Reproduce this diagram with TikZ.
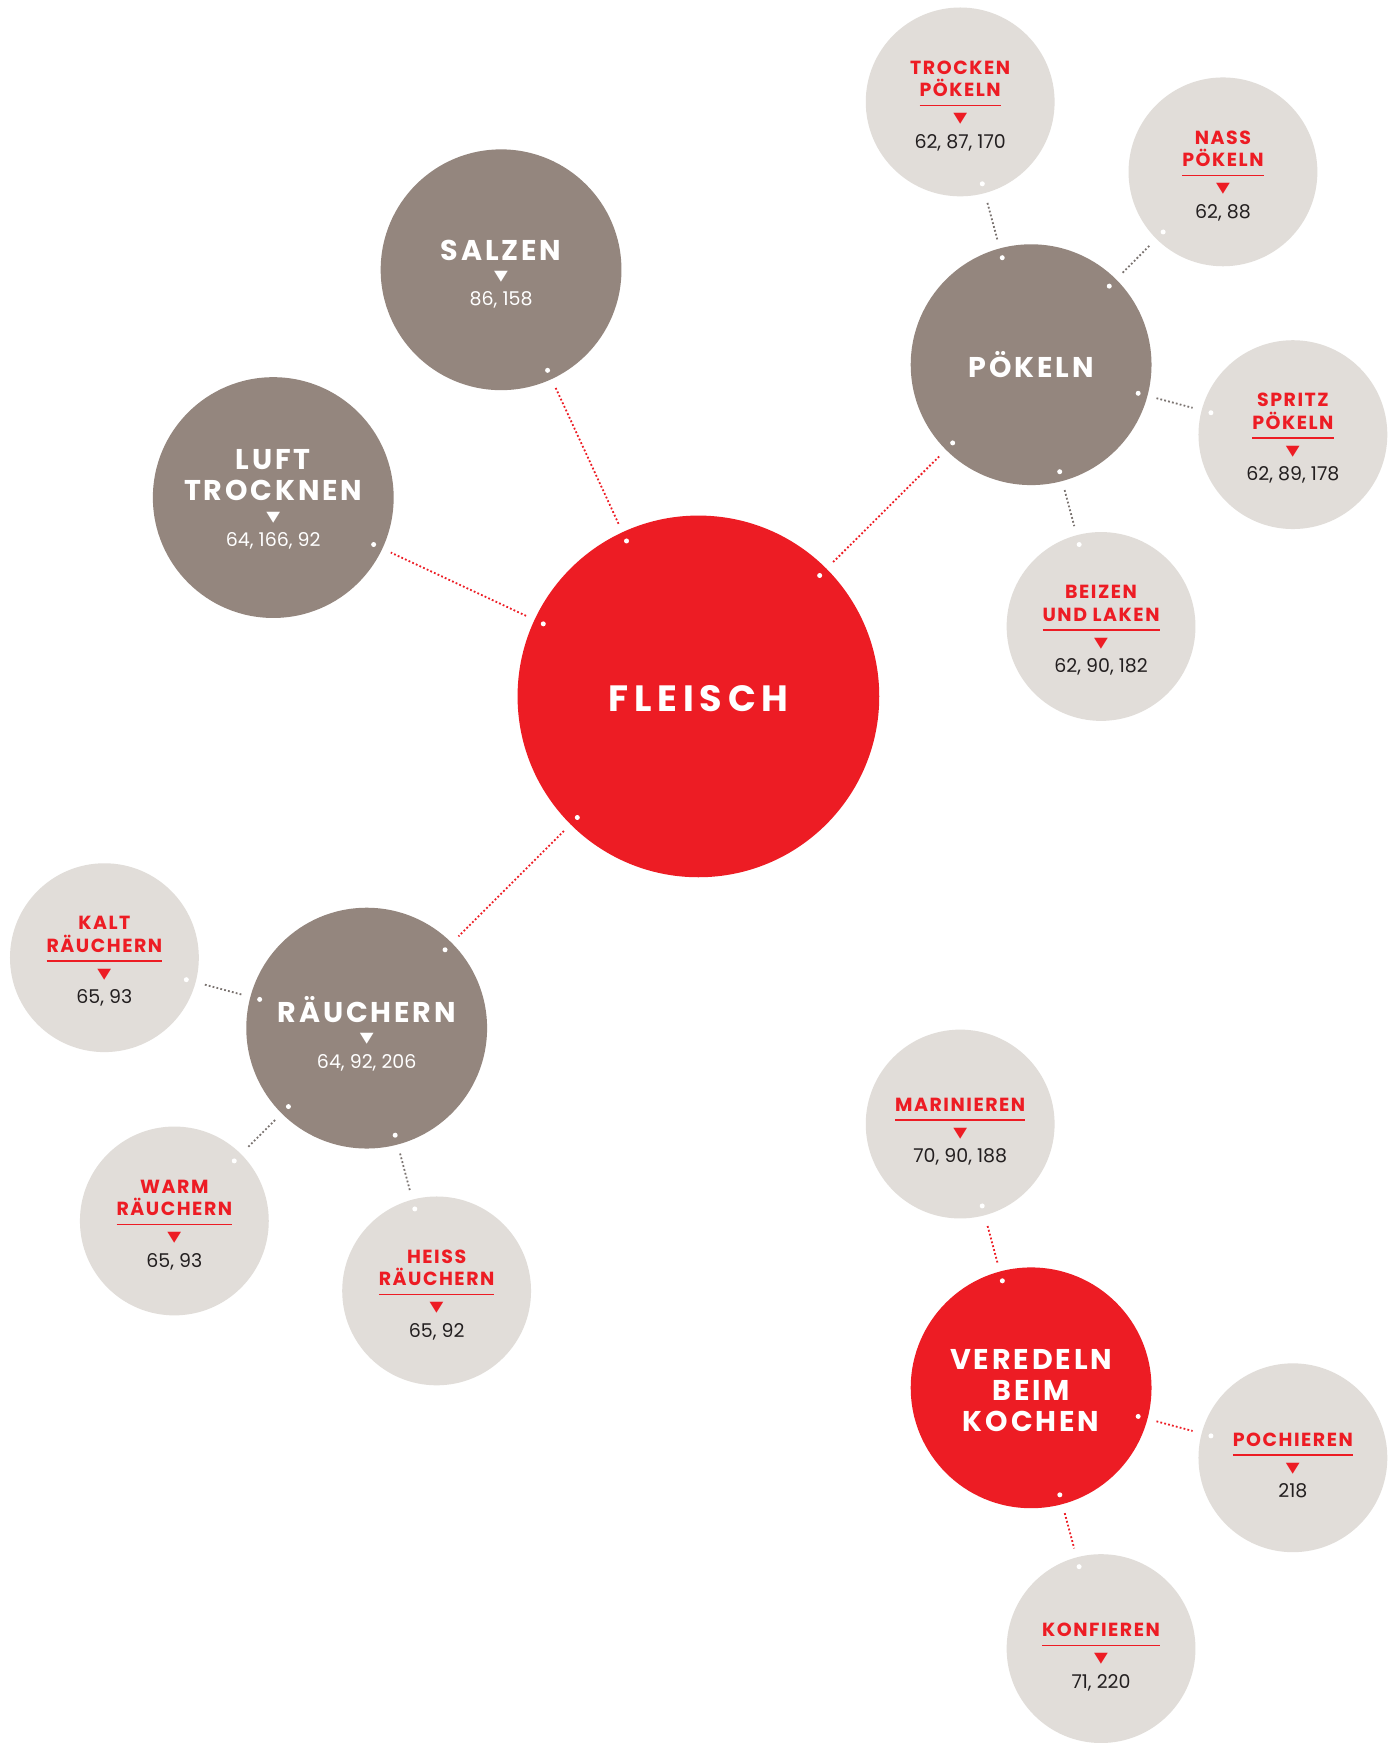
\documentclass[tikz,border=0pt]{standalone}
\usepackage{fontspec}
\setmainfont{Poppins}
\newfontfamily\trifont{DejaVu Sans}
\usetikzlibrary{calc}
\definecolor{fleischred}{HTML}{ED1C24}
\definecolor{taupe}{HTML}{94867E}
\definecolor{stone}{HTML}{E1DDD9}
\definecolor{ink}{HTML}{231F20}
\definecolor{dotgrey}{HTML}{7A7370}
\newsavebox\ulbox
\newcommand\redline[1]{\sbox\ulbox{#1}\vtop{\copy\ulbox\kern4pt\hrule height .65pt}}
\newcommand\trk{8}
\newcommand\ttl[1]{{\bfseries\addfontfeatures{LetterSpace=\trk}#1}}
\newcommand\rttl[1]{{\color{fleischred}\fontsize{9.5}{11.25}\selectfont\ttl{#1}}}
\newcommand\lift[2][3.8pt]{\raisebox{0pt}[\dimexpr\height+#1\relax]{#2}}
\newcommand\tri{{\trifont\fontsize{9}{9}\selectfont\scalebox{1}[.8]{▼}}}
\newcommand\rtri{{\color{fleischred}\tri}}
\newcommand\nums[1]{{\fontsize{9.5}{9.5}\selectfont #1}}
\tikzset{
  hub/.style={circle, fill=fleischred, minimum size=181pt, inner sep=0pt, text=white,
    align=center, font=\fontsize{18.3}{20}\selectfont\def\trk{16}},
  method/.style={circle, fill=taupe, minimum size=120.5pt, inner sep=0pt, text=white,
    align=center, font=\fontsize{14.3}{15.5}\selectfont\def\trk{10}},
  sub/.style={circle, fill=stone, minimum size=94.5pt, inner sep=0pt, text=ink,
    align=center, font=\fontsize{8.8}{11.25}\selectfont\def\trk{8}},
  link/.style={draw=#1, line width=.9pt, dash pattern=on .9pt off 1.1pt,
    shorten <=4.5pt, shorten >=4.5pt}
}
\begin{document}
\begin{tikzpicture}[x=.5pt, y=-.5pt]
  \fill[white] (0,0) rectangle (1391,1743);
  \node[hub] (fleisch) at (699,697) {\lift[2.2pt]{\ttl{FLEISCH}}};
  \node[method] (salzen) at (501.5,270) {\lift[4.4pt]{\ttl{SALZEN}}\\[-5.25pt]\tri\\[-2.75pt]\nums{86, 158}};
  \node[method] (luft) at (273.5,498) {\lift[2.2pt]{\ttl{LUFT}}\\\ttl{TROCKNEN}\\[-5.25pt]\tri\\[-2.75pt]\nums{64, 166, 92}};
  \node[method] (poekeln) at (1032,365) {\ttl{PÖKELN}};
  \node[method] (raeuchern) at (367,1029) {\lift[5.6pt]{\ttl{RÄUCHERN}}\\[-5.25pt]\tri\\[-2.75pt]\nums{64, 92, 206}};
  \node[method, fill=fleischred] (veredeln) at (1032,1389) {\lift[2.8pt]{\ttl{VEREDELN}}\\\ttl{BEIM}\\\ttl{KOCHEN}};
  \node[sub] (trocken) at (961,102) {\lift{\rttl{TROCKEN}}\\\rttl{\redline{PÖKELN}}\\[1.75pt]\rtri\\[1.5pt]\nums{62, 87, 170}};
  \node[sub] (nass) at (1224,172) {\lift{\rttl{NASS}}\\\rttl{\redline{PÖKELN}}\\[1.75pt]\rtri\\[1.5pt]\nums{62, 88}};
  \node[sub] (spritz) at (1294,435) {\lift{\rttl{SPRITZ}}\\\rttl{\redline{PÖKELN}}\\[1.75pt]\rtri\\[1.5pt]\nums{62, 89, 178}};
  \node[sub] (beizen) at (1102,627) {\lift{\rttl{BEIZEN}}\\\rttl{\redline{UND LAKEN}}\\[1.75pt]\rtri\\[1.5pt]\nums{62, 90, 182}};
  \node[sub] (kalt) at (104.5,958.5) {\lift{\rttl{KALT}}\\\rttl{\redline{RÄUCHERN}}\\[1.75pt]\rtri\\[1.5pt]\nums{65, 93}};
  \node[sub] (warm) at (174.5,1222) {\lift{\rttl{WARM}}\\\rttl{\redline{RÄUCHERN}}\\[1.75pt]\rtri\\[1.5pt]\nums{65, 93}};
  \node[sub] (heiss) at (437,1292) {\lift{\rttl{HEISS}}\\\rttl{\redline{RÄUCHERN}}\\[1.75pt]\rtri\\[1.5pt]\nums{65, 92}};
  \node[sub] (marinieren) at (961,1125) {\lift[7.6pt]{\rttl{\redline{MARINIEREN}}}\\[1.75pt]\rtri\\[1.5pt]\nums{70, 90, 188}};
  \node[sub] (pochieren) at (1294,1459) {\lift[7.6pt]{\rttl{\redline{POCHIEREN}}}\\[1.75pt]\rtri\\[1.5pt]\nums{218}};
  \node[sub] (konfieren) at (1102,1650) {\lift[8.4pt]{\rttl{\redline{KONFIEREN}}}\\[1.75pt]\rtri\\[1.5pt]\nums{71, 220}};
  \foreach \a/\b/\c in {fleisch/salzen/fleischred, fleisch/luft/fleischred, fleisch/poekeln/fleischred,
      fleisch/raeuchern/fleischred, poekeln/trocken/dotgrey, poekeln/nass/dotgrey, poekeln/spritz/dotgrey,
      poekeln/beizen/dotgrey, raeuchern/kalt/dotgrey, raeuchern/warm/dotgrey, raeuchern/heiss/dotgrey,
      veredeln/marinieren/fleischred, veredeln/pochieren/fleischred, veredeln/konfieren/fleischred} {
    \path (\a) -- (\b) coordinate[pos=0] (s) coordinate[pos=1] (e);
    \draw[link=\c] (s) -- (e);
    \fill[white] ($(s)!-5pt!(e)$) circle[radius=1.25pt] ($(e)!-5pt!(s)$) circle[radius=1.25pt];
  }
\end{tikzpicture}
\end{document}
